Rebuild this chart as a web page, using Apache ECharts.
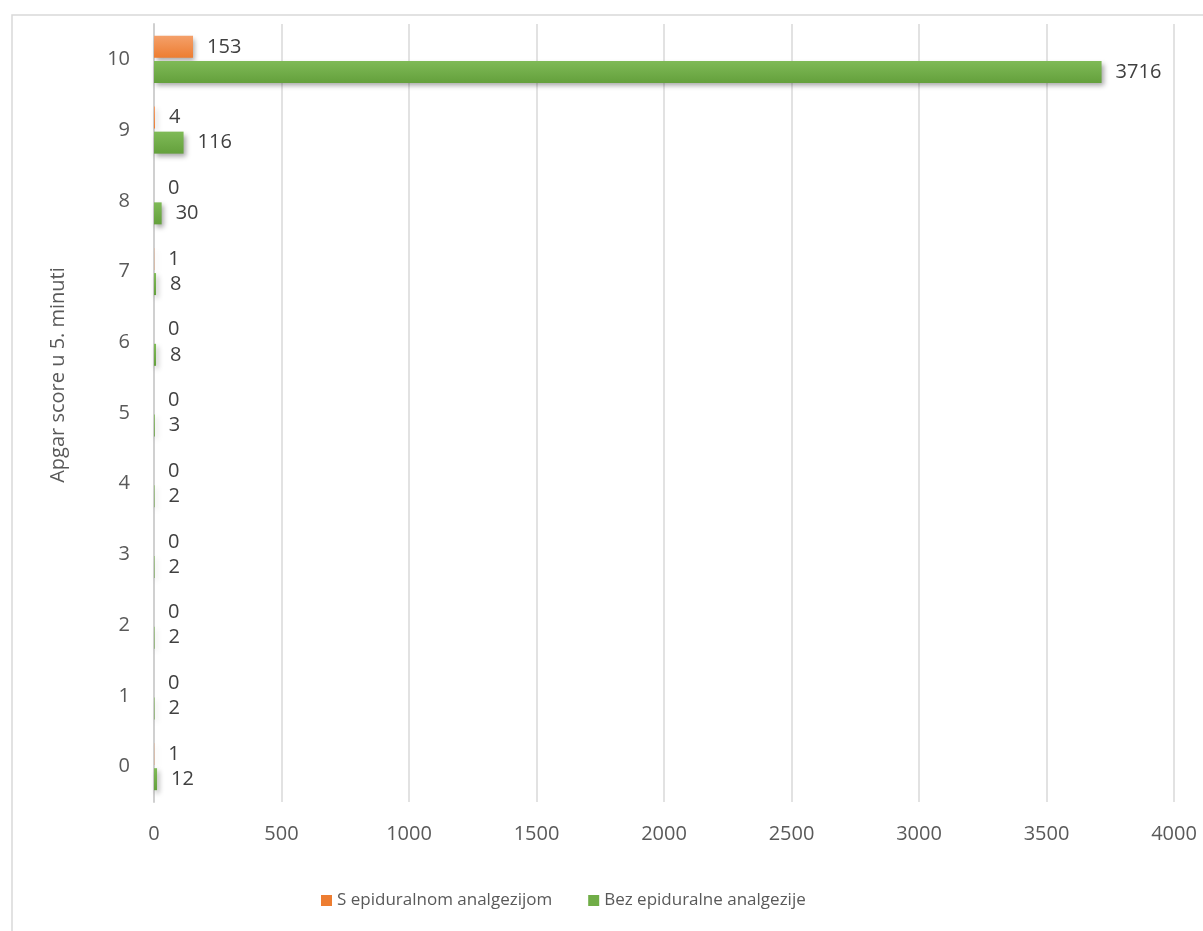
<!DOCTYPE html>
<html>
<head>
<meta charset="utf-8">
<script src="https://cdn.jsdelivr.net/npm/echarts@6/dist/echarts.min.js"></script>
<style>
  html, body { margin: 0; padding: 0; background: #fff; }
  #chart { width: 1203px; height: 931px; }
</style>
</head>
<body>
<div id="chart"></div>
<script>
// Apgar score u 5. minuti, 0..10
const scores = ['0', '1', '2', '3', '4', '5', '6', '7', '8', '9', '10']
const withEpidural = [1, 0, 0, 0, 0, 0, 0, 1, 0, 4, 153]
const withoutEpidural = [12, 2, 2, 2, 2, 3, 8, 8, 30, 116, 3716]
const seriesNames = ['S epiduralnom analgezijom', 'Bez epiduralne analgezije']
const axisTitle = 'Apgar score u 5. minuti'

const FONT = '"Open Sans", sans-serif'
const TEXT = '#595959'

function gradient(top, bottom) {
  return new echarts.graphic.LinearGradient(0, 0, 0, 1, [
    { offset: 0, color: top },
    { offset: 1, color: bottom },
  ])
}

function makeSeries(name, data, top, bottom) {
  return {
    name,
    type: 'bar',
    data,
    barWidth: 22,
    barGap: '14%',
    itemStyle: {
      color: gradient(top, bottom),
      shadowColor: 'rgba(0,0,0,0.35)',
      shadowBlur: 5,
      shadowOffsetX: 2,
      shadowOffsetY: 3,
    },
    label: {
      show: true,
      position: 'right',
      distance: 14,
      color: '#404040',
      fontFamily: FONT,
      fontSize: 20,
    },
  }
}

const chart = echarts.init(document.getElementById('chart'))
chart.setOption({
  animation: false,
  textStyle: { fontFamily: FONT },
  graphic: [
    {
      type: 'rect',
      shape: { x: 12, y: 15, width: 1300, height: 1000 },
      style: { fill: 'none', stroke: '#d9d9d9', lineWidth: 1.5 },
      silent: true,
    },
    // y axis title, placed like the original (above the plot's middle)
    {
      type: 'text',
      x: 58,
      y: 375,
      rotation: Math.PI / 2,
      style: {
        text: axisTitle,
        fill: TEXT,
        font: '20px "Open Sans", sans-serif',
        align: 'center',
        verticalAlign: 'middle',
      },
      silent: true,
    },
  ],
  grid: { left: 154, right: 29, top: 24, bottom: 129 },
  legend: {
    data: [
      { name: seriesNames[0], itemStyle: { color: '#ED7D31' } },
      { name: seriesNames[1], itemStyle: { color: '#70AD47' } },
    ],
    bottom: 17,
    left: 316,
    icon: 'rect',
    itemWidth: 11,
    itemHeight: 11,
    itemGap: 36,
    textStyle: { color: TEXT, fontSize: 17, fontFamily: FONT },
  },
  xAxis: {
    type: 'value',
    min: 0,
    max: 4000,
    interval: 500,
    axisLine: { show: false },
    axisTick: { show: false },
    axisLabel: { color: TEXT, fontSize: 20, margin: 22, fontFamily: FONT, formatter: v => String(v) },
    splitLine: { lineStyle: { color: '#d9d9d9', width: 1.5 } },
  },
  yAxis: {
    type: 'category',
    data: scores,
    axisLine: { show: true, lineStyle: { color: '#d0d0d0', width: 2 } },
    axisTick: { show: false },
    axisLabel: { color: TEXT, fontSize: 20, margin: 24, fontFamily: FONT },
  },
  series: [
    makeSeries(seriesNames[0], withEpidural, '#F4A06A', '#ED7D31'),
    makeSeries(seriesNames[1], withoutEpidural, '#7FBA57', '#64A03C'),
  ],
})
</script>
</body>
</html>
